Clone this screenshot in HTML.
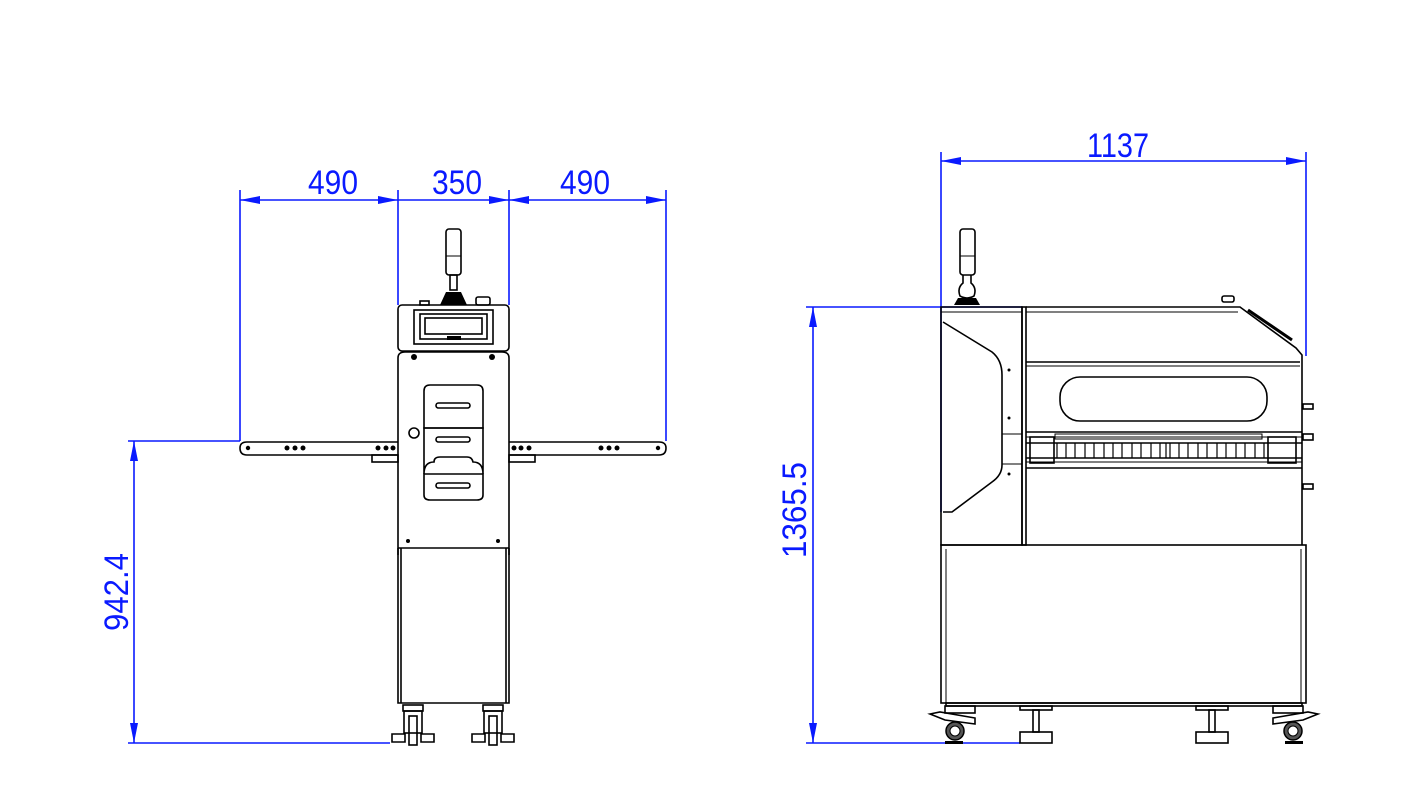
<!DOCTYPE html>
<html><head><meta charset="utf-8"><style>
html,body{margin:0;padding:0;background:#fff;}
svg{display:block;}
.b{stroke:#0a1aff;stroke-width:1.6;fill:none;}
.k{stroke:#000;stroke-width:1.6;fill:none;}
.t{stroke:#000;stroke-width:1;fill:none;}
.d{fill:#0a1aff;font-family:"Liberation Sans Narrow","Liberation Sans",sans-serif;font-size:34px;}
</style></head><body>
<svg width="1424" height="800" viewBox="0 0 1424 800" xmlns="http://www.w3.org/2000/svg">
<defs>
<marker id="a" viewBox="0 0 20 8" refX="20" refY="4" markerWidth="20" markerHeight="8" markerUnits="userSpaceOnUse" orient="auto-start-reverse"><path d="M0,0 L20,4 L0,8 Z" fill="#0a1aff"/></marker>
</defs>

<!-- LEFT VIEW DIMENSIONS -->
<line class="b" x1="240" y1="190" x2="240" y2="441"/>
<line class="b" x1="398" y1="190" x2="398" y2="305"/>
<line class="b" x1="509" y1="190" x2="509" y2="305"/>
<line class="b" x1="666" y1="190" x2="666" y2="441"/>
<line class="b" x1="240" y1="200" x2="398" y2="200" marker-start="url(#a)" marker-end="url(#a)"/>
<line class="b" x1="398" y1="200" x2="509" y2="200" marker-end="url(#a)"/>
<line class="b" x1="509" y1="200" x2="666" y2="200" marker-start="url(#a)" marker-end="url(#a)"/>
<text class="d" x="333" y="194" text-anchor="middle" textLength="50" lengthAdjust="spacingAndGlyphs">490</text>
<text class="d" x="457" y="194" text-anchor="middle" textLength="50" lengthAdjust="spacingAndGlyphs">350</text>
<text class="d" x="585" y="194" text-anchor="middle" textLength="50" lengthAdjust="spacingAndGlyphs">490</text>
<line class="b" x1="128" y1="441" x2="240" y2="441"/>
<line class="b" x1="128" y1="743" x2="390" y2="743"/>
<line class="b" x1="134" y1="441" x2="134" y2="743" marker-start="url(#a)" marker-end="url(#a)"/>
<text class="d" transform="translate(128,592) rotate(-90)" text-anchor="middle" textLength="78" lengthAdjust="spacingAndGlyphs">942.4</text>

<!-- LEFT MACHINE -->
<!-- beacon -->
<rect class="k" x="446" y="229" width="15" height="46" rx="3"/>
<line class="t" x1="446" y1="256" x2="461" y2="256"/>
<rect class="k" x="450" y="275" width="7" height="15"/>
<path d="M440,305 L446,292 L461,292 L467,305 Z" fill="#000"/>
<rect class="k" x="420" y="301" width="9" height="4"/>
<rect class="k" x="476" y="297" width="14" height="8" rx="2"/>
<!-- head -->
<rect class="k" x="398" y="305" width="111" height="46" rx="4"/>
<rect class="k" x="414" y="310" width="79" height="34"/>
<rect class="k" x="420" y="314" width="67" height="25"/>
<rect class="k" x="425" y="318" width="57" height="16"/>
<rect x="447" y="336" width="14" height="4" fill="#000"/>
<!-- body -->
<path class="k" d="M398,555 L398,358 Q398,352 405,352 L502,352 Q509,352 509,358 L509,555"/>
<line class="k" x1="398" y1="548" x2="509" y2="548"/>
<circle cx="414" cy="357" r="3" fill="#000"/><circle cx="492" cy="357" r="3" fill="#000"/>
<circle cx="408" cy="541" r="2" fill="#000"/><circle cx="498" cy="541" r="2" fill="#000"/>
<circle class="k" cx="414" cy="433" r="5"/>
<!-- panel -->
<path class="k" d="M424,428 L424,391 Q424,385 430,385 L477,385 Q483,385 483,391 L483,428 Z"/>
<path class="k" d="M424,428 L483,428 L483,474 Q483,462 473,462 Q472,457 467,457 L440,457 Q434,457 434,462 Q424,462 424,474 Z"/>
<path class="k" d="M424,474 L424,495 Q424,500 430,500 L477,500 Q483,500 483,495 L483,474 Z"/>
<rect class="k" x="436" y="403" width="34" height="5" rx="2.5"/>
<rect class="k" x="436" y="437" width="34" height="5" rx="2.5"/>
<rect class="k" x="436" y="483" width="34" height="5" rx="2.5"/>
<!-- lower cabinet -->
<path class="k" d="M398,548 L398,703 L509,703 L509,548"/>
<line class="k" x1="401" y1="548" x2="401" y2="703"/><line class="k" x1="506" y1="548" x2="506" y2="703"/>
<!-- casters -->
<g>
<rect class="k" x="403" y="705" width="20" height="6"/>
<rect class="k" x="404" y="711" width="18" height="22" fill="#555"/>
<rect class="k" x="409" y="716" width="8" height="29" fill="#fff"/>
<path class="k" d="M392,734 L405,734 L405,742 L392,742 Z M421,734 L434,734 L434,742 L421,742 Z"/>
</g>
<g transform="translate(80,0)">
<rect class="k" x="403" y="705" width="20" height="6"/>
<rect class="k" x="404" y="711" width="18" height="22" fill="#555"/>
<rect class="k" x="409" y="716" width="8" height="29" fill="#fff"/>
<path class="k" d="M392,734 L405,734 L405,742 L392,742 Z M421,734 L434,734 L434,742 L421,742 Z"/>
</g>
<!-- arms -->
<path class="k" d="M398,442 L247,442 Q240,442 240,448 Q240,455 247,455 L398,455"/>
<path class="k" d="M509,442 L659,442 Q666,442 666,448 Q666,455 659,455 L509,455"/>
<rect class="k" x="372" y="455" width="26" height="7"/>
<rect class="k" x="509" y="455" width="26" height="7"/>
<g fill="#000">
<circle cx="248" cy="448" r="2.2"/><circle cx="287" cy="448" r="2.5"/><circle cx="295" cy="448" r="2.5"/><circle cx="303" cy="448" r="2.5"/>
<circle cx="378" cy="448" r="2.5"/><circle cx="386" cy="448" r="2.5"/><circle cx="393" cy="448" r="2.5"/>
<circle cx="514" cy="448" r="2.5"/><circle cx="521" cy="448" r="2.5"/><circle cx="529" cy="448" r="2.5"/>
<circle cx="601" cy="448" r="2.5"/><circle cx="609" cy="448" r="2.5"/><circle cx="617" cy="448" r="2.5"/><circle cx="658" cy="448" r="2.2"/>
</g>

<!-- RIGHT VIEW DIMENSIONS -->
<line class="b" x1="941" y1="152" x2="941" y2="512"/>
<line class="b" x1="1306" y1="152" x2="1306" y2="356"/>
<line class="b" x1="941" y1="161" x2="1306" y2="161" marker-start="url(#a)" marker-end="url(#a)"/>
<text class="d" x="1118" y="157" text-anchor="middle" textLength="62" lengthAdjust="spacingAndGlyphs">1137</text>
<line class="b" x1="806" y1="307" x2="1022" y2="307"/>
<line class="b" x1="806" y1="743" x2="1020" y2="743"/>
<line class="b" x1="813" y1="307" x2="813" y2="743" marker-start="url(#a)" marker-end="url(#a)"/>
<text class="d" transform="translate(806,510) rotate(-90)" text-anchor="middle" textLength="96" lengthAdjust="spacingAndGlyphs">1365.5</text>

<!-- RIGHT MACHINE -->
<rect class="k" x="960" y="229" width="15" height="46" rx="3"/>
<line class="t" x1="960" y1="256" x2="975" y2="256"/>
<path class="k" d="M963,275 L963,283 Q957,288 960,296 Q967,300 974,296 Q977,288 971,283 L971,275"/>
<path d="M954,305 L958,298 L976,298 L980,305 Z" fill="#000"/>
<rect class="k" x="1222" y="296" width="12" height="6" rx="2"/>
<!-- left block -->
<path class="k" d="M941,307 L1022,307 L1022,545 L941,545 Z"/>
<line class="t" x1="941" y1="312" x2="1022" y2="312"/>
<path class="k" d="M943,322 L992,352 Q1002,360 1002,375 L1002,465 Q1002,475 992,482 L952,512 L943,512"/>
<g fill="#000"><circle cx="1009" cy="370" r="1.5"/><circle cx="1009" cy="418" r="1.5"/><circle cx="1009" cy="474" r="1.5"/></g>
<rect class="k" x="1022" y="307" width="4" height="238"/>
<!-- upper right housing -->
<path class="k" d="M1026,307 L1240,307 L1296,348 L1302,355 L1302,545"/>
<line class="t" x1="1026" y1="312" x2="1238" y2="312"/>
<path d="M1248,310 L1292,340" stroke="#000" stroke-width="3"/>
<line class="k" x1="1026" y1="362" x2="1300" y2="362"/>
<line class="t" x1="1026" y1="366" x2="1300" y2="366"/>
<rect class="k" x="1060" y="377" width="207" height="44" rx="20"/>
<!-- roller strip -->
<line class="k" x1="1026" y1="432" x2="1302" y2="432"/>
<line class="t" x1="1026" y1="437" x2="1302" y2="437"/>
<rect class="t" x="1055" y="434" width="207" height="5"/>
<line class="k" x1="1026" y1="443" x2="1302" y2="443"/>
<line class="k" x1="1026" y1="458" x2="1302" y2="458"/>
<line class="k" x1="1026" y1="468" x2="1302" y2="468"/>
<line class="t" x1="1026" y1="462" x2="1302" y2="462"/>
<g stroke="#000" stroke-width="1.2">
<path d="M1057,443v15M1066,443v15M1075,443v15M1085,443v15M1094,443v15M1104,443v15M1113,443v15M1122,443v15M1132,443v15M1141,443v15M1151,443v15M1160,443v15M1166,443v15M1170,443v15M1179,443v15M1188,443v15M1198,443v15M1207,443v15M1217,443v15M1226,443v15M1236,443v15M1245,443v15M1255,443v15M1264,443v15"/>
</g>
<rect class="k" x="1030" y="437" width="24" height="26"/>
<rect class="k" x="1268" y="437" width="28" height="26"/>
<rect class="t" x="1002" y="434" width="20" height="30"/>
<!-- side knobs -->
<rect class="k" x="1303" y="404" width="10" height="5"/>
<rect class="k" x="1303" y="434" width="10" height="6"/>
<rect class="k" x="1303" y="484" width="10" height="5"/>
<!-- lower cabinet -->
<rect class="k" x="941" y="545" width="365" height="158"/>
<line class="t" x1="946" y1="549" x2="946" y2="703"/>
<line class="t" x1="1301" y1="549" x2="1301" y2="703"/>
<rect class="k" x="946" y="703" width="356" height="3"/>
<!-- casters right -->
<g>
<rect class="k" x="945" y="706" width="30" height="7"/>
<path class="k" d="M930,714 L940,712 L975,718 L975,724 L945,720 Z"/>
<circle cx="955" cy="731" r="9" fill="#555" stroke="#000" stroke-width="1.5"/>
<circle cx="955" cy="731" r="5" fill="#fff" stroke="#000"/>
<rect x="945" y="741" width="18" height="3" fill="#000"/>
</g>
<g transform="translate(2248,0) scale(-1,1)">
<rect class="k" x="945" y="706" width="30" height="7"/>
<path class="k" d="M930,714 L940,712 L975,718 L975,724 L945,720 Z"/>
<circle cx="955" cy="731" r="9" fill="#555" stroke="#000" stroke-width="1.5"/>
<circle cx="955" cy="731" r="5" fill="#fff" stroke="#000"/>
<rect x="945" y="741" width="18" height="3" fill="#000"/>
</g>
<!-- feet -->
<rect class="k" x="1020" y="706" width="32" height="4"/>
<rect class="k" x="1033" y="710" width="6" height="22"/>
<rect class="k" x="1020" y="732" width="32" height="11"/>
<rect class="k" x="1196" y="706" width="32" height="4"/>
<rect class="k" x="1209" y="710" width="6" height="22"/>
<rect class="k" x="1196" y="732" width="32" height="11"/>
</svg>
</body></html>
